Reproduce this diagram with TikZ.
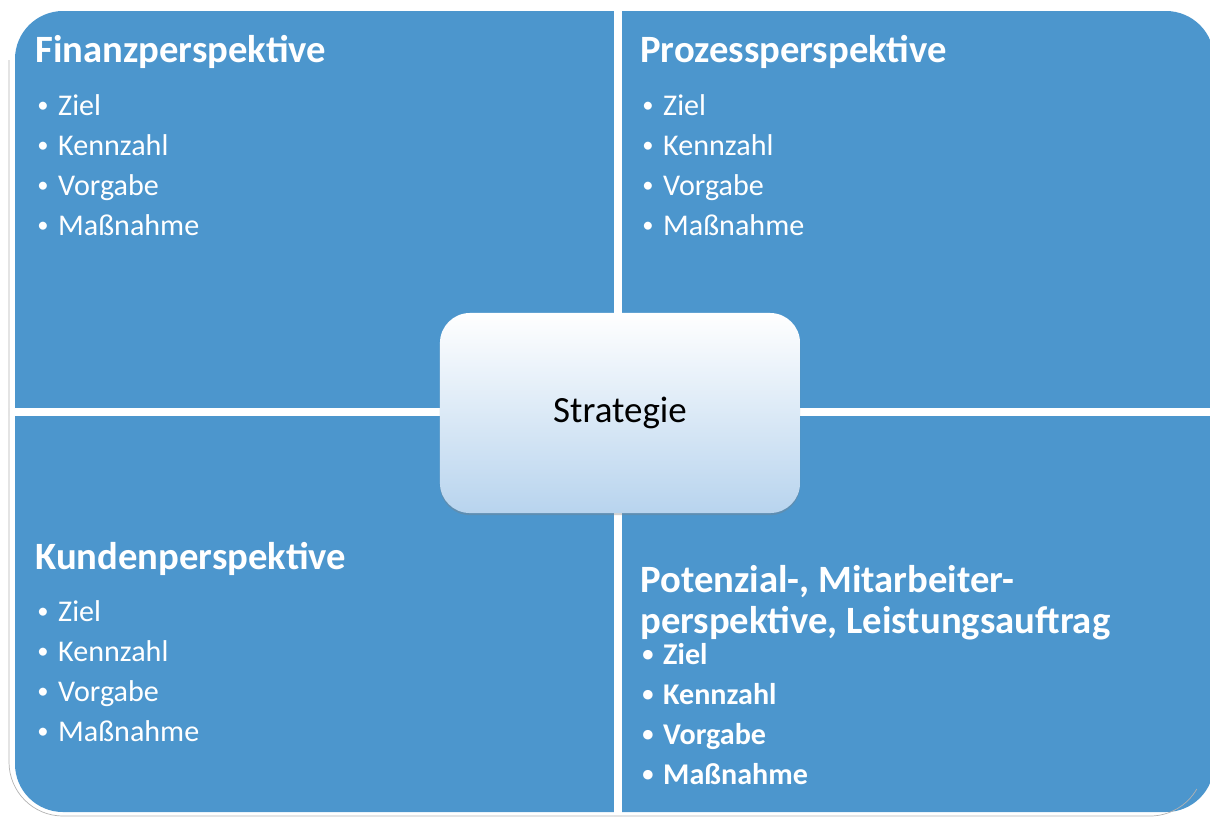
\documentclass[tikz,border=0pt]{standalone}
\usepackage{fontspec}
\setmainfont{Carlito}
\usetikzlibrary{shadows}
\definecolor{panelblue}{RGB}{76,150,205}
\definecolor{stratblue}{RGB}{184,212,238}
\tikzset{
  panel/.style={fill=panelblue, rounded corners=1.2cm},
  gap/.style={fill=white},
  heading/.style={anchor=base west, inner sep=0pt, text=white,
    font=\bfseries\fontsize{27.5}{30}\selectfont},
  point/.style={anchor=base west, inner sep=0pt, text=white,
    font=\fontsize{21.4}{26}\selectfont},
  point-bold/.style={point, font=\bfseries\fontsize{21.4}{26}\selectfont},
  strategy/.style={rounded corners=0.75cm, minimum width=9cm, minimum height=5cm,
    top color=white, bottom color=stratblue, text=black,
    font=\fontsize{26.3}{30}\selectfont,
    drop shadow={shadow xshift=0pt, shadow yshift=-1.5pt, opacity=0.35}}
}
% small bullet in front of each point
\newcommand{\pointmark}{\makebox[14.9pt][l]{\raisebox{1.9pt}{\fontsize{16}{16}\selectfont\textbullet}}}
% four bullet points of a panel: name, x, first baseline, style
\newcommand{\pointlist}[4]{
  \foreach \txt [count=\i] in {Ziel,Kennzahl,Vorgabe,Maßnahme}
    \node[#4] (#1-\i) at (#2, #3+40*\i-40) {\pointmark\txt};
}

\begin{document}
\begin{tikzpicture}[x=0.025cm, y=-0.025cm]
  \useasboundingbox (0,0) rectangle (1210,818);

  % blue field, split into four panels by a white cross
  \fill[panel] (15,11) rectangle (1214,812);
  \fill[gap] (614,0) rectangle (622,818);
  \fill[gap] (0,408) rectangle (1210,416);

  % faint edge of the sheet
  \draw[gray!60, line width=0.5pt] (9,60) -- (9,762)
    arc[start angle=180, end angle=270, radius=1.35cm] -- (1150,816)
    arc[start angle=270, end angle=330, radius=1.35cm];

  % Finanzperspektive
  \node[heading] (fin) at (35,62) {Finanzperspektive};
  \pointlist{fin}{37}{115}{point}

  % Prozessperspektive
  \node[heading] (proz) at (640,62) {Prozessperspektive};
  \pointlist{proz}{642}{115}{point}

  % Kundenperspektive
  \node[heading] (kund) at (35,569) {Kundenperspektive};
  \pointlist{kund}{37}{621}{point}

  % Potenzial-, Mitarbeiterperspektive
  \node[heading] (pot) at (640,592) {Potenzial-, Mitarbeiter-};
  \node[heading] (pot-b) at (640,633) {perspektive, Leistungsauftrag};
  \pointlist{pot}{642}{664}{point-bold}

  % Strategie in the middle
  \node[strategy] (strat) at (620,413) {Strategie};
\end{tikzpicture}
\end{document}
